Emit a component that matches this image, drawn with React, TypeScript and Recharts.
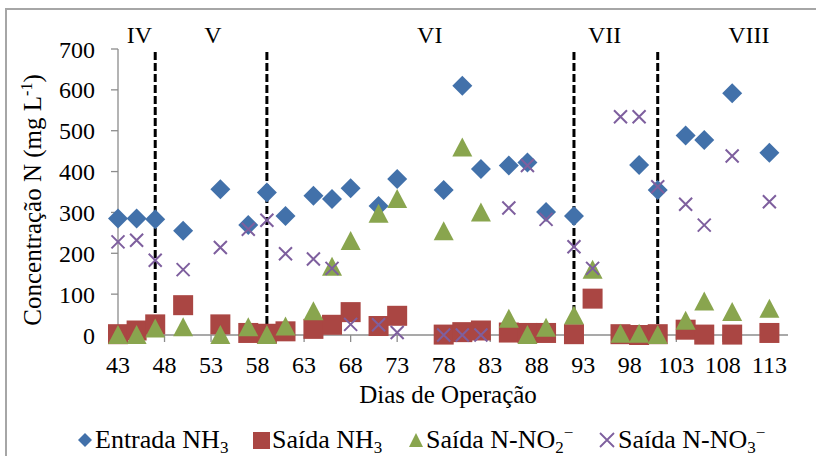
import React from 'react';
import { ScatterChart, Scatter, XAxis, YAxis, ReferenceLine } from 'recharts';

// dias com amostra de entrada
const DIAS_ENTRADA = [43, 45, 47, 50, 54, 57, 59, 61, 64, 66, 68, 71, 73, 78, 80, 82, 85, 87, 89, 92, 99, 101, 104, 106, 109, 113];
const ENTRADA_NH3 = [285, 285, 283, 255, 357, 269, 349, 291, 341, 333, 359, 316, 382, 355, 610, 406, 415, 422, 301, 291, 416, 355, 488, 477, 592, 446];

// dias com amostra de saída
const DIAS_SAIDA = [43, 45, 47, 50, 54, 57, 59, 61, 64, 66, 68, 71, 73, 78, 80, 82, 85, 87, 89, 92, 94, 97, 99, 101, 104, 106, 109, 113];
const SAIDA_NH3 = [2, 11, 26, 73, 26, 5, 3, 9, 15, 25, 56, 22, 47, 1, 7, 11, 6, 5, 5, 2, 89, 2, 0, 2, 13, 1, 1, 5];
const SAIDA_NO2 = [0, 0, 16, 19, 0, 19, 0, 21, 58, 167, 230, 297, 333, 254, 459, 300, 40, 0, 18, 48, 160, 3, 3, 0, 35, 82, 56, 64];
const SAIDA_NO3 = [228, 232, 183, 160, 214, 259, 281, 199, 186, 163, 26, 25, 6, 0, 0, 0, 311, 415, 283, 216, 163, 534, 534, 363, 320, 269, 438, 326];

const X_TICKS = [43, 48, 53, 58, 63, 68, 73, 78, 83, 88, 93, 98, 103, 108, 113];
const Y_TICKS = [0, 100, 200, 300, 400, 500, 600, 700];

// fases de operação
const FASES = ['IV', 'V', 'VI', 'VII', 'VIII'];
const FASE_CENTRO = [45.3, 53.2, 76.5, 95.3, 110.8];
const FASE_LIMITE = [47, 59, 92, 101];

const FONT = 'Liberation Serif';
const AZUL = '#4271AA';
const VERMELHO = '#AA4643';
const VERDE = '#89A54E';
const ROXO = '#7E5F9E';
const CINZA = '#8c8c8c';

const toPoints = (dias: number[], vals: number[]) => dias.map((d, i) => ({ dia: d, v: vals[i] }));

const Diamond = (p: any) => (
  <polygon points={`${p.cx},${p.cy - 10} ${p.cx + 10},${p.cy} ${p.cx},${p.cy + 10} ${p.cx - 10},${p.cy}`} fill={AZUL} />
);
const Square = (p: any) => <rect x={p.cx - 10} y={p.cy - 10} width={20} height={20} fill={VERMELHO} />;
const Triangle = (p: any) => (
  <polygon points={`${p.cx},${p.cy - 10} ${p.cx + 10},${p.cy + 9} ${p.cx - 10},${p.cy + 9}`} fill={VERDE} />
);
const Cross = (p: any) => (
  <path d={`M${p.cx - 6.5},${p.cy - 6.5}L${p.cx + 6.5},${p.cy + 6.5}M${p.cx + 6.5},${p.cy - 6.5}L${p.cx - 6.5},${p.cy + 6.5}`} stroke={ROXO} strokeWidth={2} />
);

const YTitle = () => (
  <text transform="translate(41,200) rotate(-90)" textAnchor="middle" fontFamily={FONT} fontSize={25} fill="#000">
    Concentração N (mg L<tspan dy={-9} fontSize={16}>-1</tspan><tspan dy={9}>)</tspan>
  </text>
);

const XTitle = () => (
  <text x={448} y={403} textAnchor="middle" fontFamily={FONT} fontSize={25} fill="#000">
    Dias de Operação
  </text>
);

const Legenda = () => (
  <svg width={816} height={456} style={{ position: 'absolute', left: 0, top: 0, pointerEvents: 'none' }}>
    <polygon points="85,433 92,440 85,447 78,440" fill={AZUL} />
    <text x={95} y={448} fontFamily={FONT} fontSize={26} fill="#000">Entrada NH<tspan dy={5} fontSize={17}>3</tspan></text>
    <rect x={253} y={432} width={17} height={17} fill={VERMELHO} />
    <text x={272} y={448} fontFamily={FONT} fontSize={26} fill="#000">Saída NH<tspan dy={5} fontSize={17}>3</tspan></text>
    <polygon points="416,433 423,447 409,447" fill={VERDE} />
    <text x={426} y={448} fontFamily={FONT} fontSize={26} fill="#000">Saída N-NO<tspan dy={5} fontSize={17}>2</tspan><tspan dy={-15} fontSize={17}>−</tspan></text>
    <path d="M600,433L614,447M614,433L600,447" stroke={ROXO} strokeWidth={1.8} />
    <text x={618} y={448} fontFamily={FONT} fontSize={26} fill="#000">Saída N-NO<tspan dy={5} fontSize={17}>3</tspan><tspan dy={-15} fontSize={17}>−</tspan></text>
  </svg>
);

export default function App() {
  const tick = { fill: '#000', fontSize: 24, fontFamily: FONT };
  return (
    <div style={{ position: 'absolute', left: 0, top: 0, width: 816, height: 456, overflow: 'hidden', background: '#fff', fontFamily: FONT }}>
      <div style={{ position: 'absolute', left: 5, top: 8, width: 900, height: 500, border: '2px solid #a6a6a6' }} />
      <div style={{ position: 'absolute', left: 0, top: 0 }}>
        <ScatterChart width={816} height={456} margin={{ top: 49, right: 28, bottom: 91, left: 0 }}>
          <XAxis
            type="number"
            dataKey="dia"
            domain={[43, 115]}
            ticks={X_TICKS}
            interval={0}
            tick={tick}
            tickSize={7}
            tickMargin={14}
            height={30}
            axisLine={{ stroke: CINZA, strokeWidth: 1.3 }}
            tickLine={{ stroke: CINZA, strokeWidth: 1.3 }}
            label={<XTitle />}
          />
          <YAxis
            type="number"
            dataKey="v"
            domain={[0, 700]}
            ticks={Y_TICKS}
            interval={0}
            width={118}
            tick={tick}
            tickSize={7}
            tickMargin={16}
            axisLine={{ stroke: CINZA, strokeWidth: 1.3 }}
            tickLine={{ stroke: CINZA, strokeWidth: 1.3 }}
            label={<YTitle />}
          />
          {FASE_LIMITE.map((d) => (
            <ReferenceLine key={`lim-${d}`} x={d} stroke="#000" strokeWidth={3} strokeDasharray="8 3" />
          ))}
          {FASES.map((f, i) => (
            <ReferenceLine
              key={`fase-${f}`}
              x={FASE_CENTRO[i]}
              stroke="none"
              label={{ value: f, position: 'top', offset: 6, fill: '#000', fontSize: 24, fontFamily: FONT }}
            />
          ))}
          <Scatter name="Entrada NH3" data={toPoints(DIAS_ENTRADA, ENTRADA_NH3)} shape={Diamond} isAnimationActive={false} />
          <Scatter name="Saída NH3" data={toPoints(DIAS_SAIDA, SAIDA_NH3)} shape={Square} isAnimationActive={false} />
          <Scatter name="Saída N-NO2-" data={toPoints(DIAS_SAIDA, SAIDA_NO2)} shape={Triangle} isAnimationActive={false} />
          <Scatter name="Saída N-NO3-" data={toPoints(DIAS_SAIDA, SAIDA_NO3)} shape={Cross} isAnimationActive={false} />
        </ScatterChart>
      </div>
      <Legenda />
    </div>
  );
}
